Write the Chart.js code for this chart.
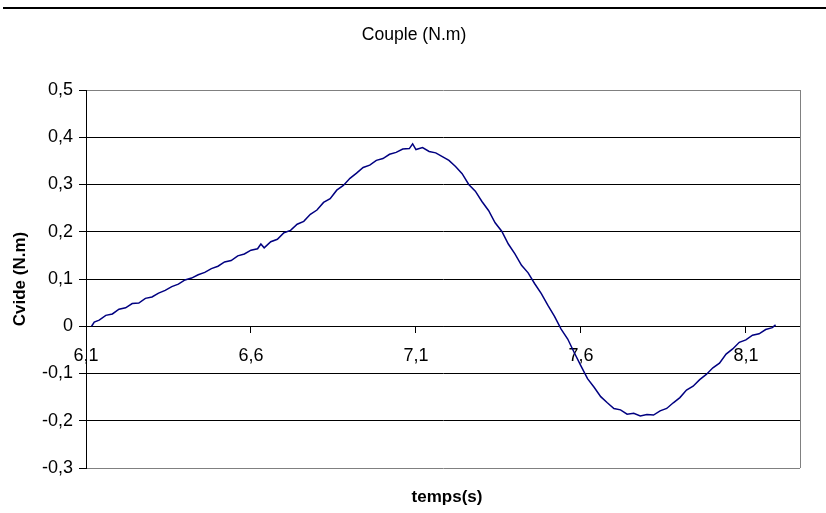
<!DOCTYPE html>
<html>
<head>
<meta charset="utf-8">
<script src="https://cdn.jsdelivr.net/npm/chart.js@4.4.1/dist/chart.umd.min.js"></script>
<style>
  html, body { margin: 0; padding: 0; background: #fff; }
  #wrap { position: relative; width: 826px; height: 513px; }
</style>
</head>
<body>
<div id="wrap"><canvas id="chart"></canvas></div>
<script>
// données
const temps = [6.117, 6.125, 6.14, 6.16, 6.18, 6.20, 6.22, 6.24, 6.26, 6.28, 6.30, 6.32, 6.34, 6.36, 6.38,
  6.40, 6.42, 6.44, 6.46, 6.48, 6.50, 6.52, 6.54, 6.56, 6.58, 6.60, 6.62, 6.63, 6.64, 6.66, 6.68,
  6.70, 6.72, 6.74, 6.76, 6.78, 6.80, 6.82, 6.84, 6.86, 6.88, 6.90, 6.92, 6.94, 6.96, 6.98,
  7.00, 7.02, 7.04, 7.06, 7.08, 7.09, 7.10, 7.12, 7.14, 7.16, 7.18, 7.20, 7.22, 7.24, 7.26, 7.28,
  7.30, 7.32, 7.34, 7.36, 7.38, 7.40, 7.42, 7.44, 7.46, 7.48, 7.50, 7.52, 7.54, 7.56, 7.58,
  7.60, 7.62, 7.64, 7.66, 7.68, 7.70, 7.72, 7.74, 7.76, 7.78, 7.80, 7.82, 7.84, 7.86, 7.88,
  7.90, 7.92, 7.94, 7.96, 7.98, 8.00, 8.02, 8.04, 8.06, 8.08, 8.10, 8.12, 8.14, 8.16, 8.18, 8.19];

const cvide = [0.000, 0.009, 0.013, 0.023, 0.026, 0.036, 0.039, 0.048, 0.049, 0.059, 0.062, 0.070, 0.076, 0.084, 0.089,
  0.098, 0.102, 0.109, 0.114, 0.122, 0.127, 0.136, 0.139, 0.149, 0.153, 0.161, 0.164, 0.174, 0.166, 0.179, 0.184,
  0.198, 0.203, 0.216, 0.222, 0.237, 0.246, 0.262, 0.270, 0.288, 0.298, 0.313, 0.324, 0.336, 0.341, 0.351,
  0.355, 0.364, 0.368, 0.375, 0.376, 0.386, 0.374, 0.378, 0.370, 0.367, 0.359, 0.351, 0.338, 0.323, 0.300, 0.286,
  0.264, 0.245, 0.219, 0.201, 0.174, 0.153, 0.129, 0.113, 0.090, 0.069, 0.044, 0.021, -0.006, -0.027, -0.056,
  -0.084, -0.111, -0.129, -0.149, -0.162, -0.174, -0.177, -0.186, -0.184, -0.190, -0.187, -0.188, -0.179, -0.174, -0.162,
  -0.151, -0.135, -0.127, -0.113, -0.102, -0.088, -0.078, -0.059, -0.048, -0.034, -0.029, -0.019, -0.016, -0.007, -0.003, 0.003];

const xTicks = [6.1, 6.6, 7.1, 7.6, 8.1];
const yTicks = [-0.3, -0.2, -0.1, 0, 0.1, 0.2, 0.3, 0.4, 0.5];

const FONT = '"Liberation Sans", Arial, sans-serif';
Chart.defaults.font.family = FONT;
Chart.defaults.font.size = 18;
Chart.defaults.color = '#000';

const fmt = v => Math.abs(v) < 1e-9 ? '0' : Number(v).toFixed(1).replace('.', ',');

// === titres, bordure du cadre et trait du haut ===
const decor = {
  id: 'decor',
  beforeDatasetsDraw(chart) {
    const { ctx, chartArea: a } = chart;
    ctx.save();
    ctx.strokeStyle = '#808080';
    ctx.lineWidth = 1;
    ctx.beginPath();
    ctx.moveTo(Math.round(a.right) + 0.5, a.top);
    ctx.lineTo(Math.round(a.right) + 0.5, a.bottom);
    ctx.stroke();
    ctx.restore();
  },
  afterDraw(chart) {
    const { ctx, chartArea: a } = chart;
    ctx.save();
    ctx.fillStyle = '#000';
    ctx.fillRect(3, 7, 823, 2);

    ctx.textAlign = 'center';
    ctx.textBaseline = 'middle';
    ctx.font = '17.6px ' + FONT;
    ctx.fillText('Couple (N.m)', 414, 35);

    ctx.font = 'bold 17px ' + FONT;
    ctx.fillText('temps(s)', (a.left + a.right) / 2 + 4, 497);

    ctx.translate(20, (a.top + a.bottom) / 2);
    ctx.rotate(-Math.PI / 2);
    ctx.fillText('Cvide (N.m)', 0, 0);
    ctx.restore();
  }
};

new Chart(document.getElementById('chart'), {
  type: 'line',
  data: {
    datasets: [{
      data: temps.map((t, i) => ({ x: t, y: cvide[i] })),
      borderColor: '#000080',
      borderWidth: 1.5,
      pointRadius: 0,
      tension: 0,
      fill: false
    }]
  },
  options: {
    responsive: true,
    maintainAspectRatio: false,
    animation: false,
    layout: { padding: { top: 90, bottom: 45, right: 26, left: 0 } },
    plugins: { legend: { display: false }, tooltip: { enabled: false }, title: { display: false } },
    scales: {
      x: {
        type: 'linear',
        position: { y: 0 },
        min: 6.1,
        max: 8.264,
        afterBuildTicks: s => { s.ticks = xTicks.map(v => ({ value: v })); },
        ticks: { callback: fmt, padding: 13, maxRotation: 0, autoSkip: false },
        grid: { drawOnChartArea: false, drawTicks: true, tickLength: 6, tickColor: '#000' },
        border: { color: '#000', width: 1 }
      },
      y: {
        min: -0.3,
        max: 0.5,
        afterBuildTicks: s => { s.ticks = yTicks.map(v => ({ value: v })); },
        afterFit: s => { s.width = 86; },
        ticks: { callback: fmt, padding: 6 },
        grid: {
          color: c => (c.tick && (Math.abs(c.tick.value - 0.5) < 1e-9 || Math.abs(c.tick.value + 0.3) < 1e-9)) ? '#808080' : '#000',
          tickColor: '#000',
          tickLength: 7,
          lineWidth: 1
        },
        border: { color: '#000', width: 1 }
      }
    }
  },
  plugins: [decor]
});
</script>
</body>
</html>
